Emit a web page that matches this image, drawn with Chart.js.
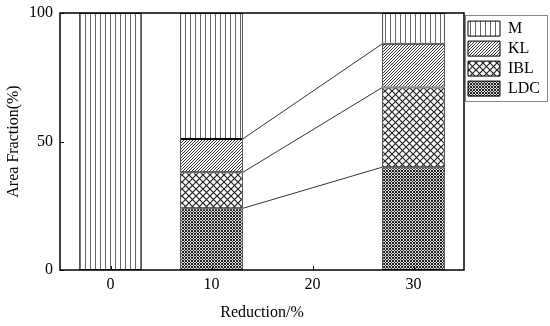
<!DOCTYPE html>
<html>
<head>
<meta charset="utf-8">
<script src="https://cdn.jsdelivr.net/npm/chart.js@4.4.0/dist/chart.umd.min.js"></script>
<style>
  html, body { margin: 0; padding: 0; background: #fff; }
  #wrap { width: 550px; height: 326px; }
</style>
</head>
<body>
<div id="wrap"><canvas id="myChart" width="550" height="326"></canvas></div>
<script>
// data
var reductions = [0, 10, 30];
var ldc = [0, 24, 40];
var ibl = [0, 14, 31];
var kl = [0, 13, 17];
var mPhase = [100, 49, 12];
var xTicks = [0, 10, 20, 30];
var yTicks = [0, 50, 100];

var serif = "'Liberation Serif', 'DejaVu Serif', serif";

// hatch patterns
function makePattern(kind) {
    var c = document.createElement('canvas');
    var g = c.getContext('2d');
    var s;
    if (kind == 'vert') {
        s = 5; c.width = s; c.height = s;
        g.fillStyle = '#fff'; g.fillRect(0, 0, s, s);
        g.fillStyle = '#666'; g.fillRect(0, 0, 1, s);
    } else if (kind == 'diag') {
        s = 3; c.width = s; c.height = s;
        g.fillStyle = '#fff'; g.fillRect(0, 0, s, s);
        g.strokeStyle = '#333'; g.lineWidth = 1;
        g.beginPath();
        g.moveTo(0, s); g.lineTo(s, 0);
        g.moveTo(-1, 1); g.lineTo(1, -1);
        g.moveTo(s - 1, s + 1); g.lineTo(s + 1, s - 1);
        g.stroke();
    } else if (kind == 'cross') {
        s = 7; c.width = s; c.height = s;
        g.fillStyle = '#fff'; g.fillRect(0, 0, s, s);
        g.strokeStyle = '#222'; g.lineWidth = 1.2;
        g.beginPath();
        g.moveTo(0, 0); g.lineTo(s, s);
        g.moveTo(0, s); g.lineTo(s, 0);
        g.stroke();
    } else {
        s = 3; c.width = s; c.height = s;
        g.fillStyle = '#ddd'; g.fillRect(0, 0, s, s);
        g.strokeStyle = '#222'; g.lineWidth = 1;
        g.beginPath();
        g.moveTo(0, 0); g.lineTo(s, s);
        g.moveTo(0, s); g.lineTo(s, 0);
        g.stroke();
    }
    return document.getElementById('myChart').getContext('2d').createPattern(c, 'repeat');
}

function pts(vals) {
    return reductions.map(function (x, i) { return { x: x, y: vals[i] }; });
}

// frame, inner ticks and connector lines
var extras = {
    id: 'extras',
    afterDatasetsDraw: function (chart) {
        var ctx = chart.ctx;
        ctx.save();
        ctx.strokeStyle = '#333';
        ctx.lineWidth = 1;
        for (var d = 0; d < 3; d++) {
            var meta = chart.getDatasetMeta(d);
            var a = meta.data[1], b = meta.data[2];
            ctx.beginPath();
            ctx.moveTo(a.x + a.width / 2, a.y);
            ctx.lineTo(b.x - b.width / 2, b.y);
            ctx.stroke();
        }
        ctx.restore();
    },
    afterDraw: function (chart) {
        var ctx = chart.ctx, ca = chart.chartArea;
        var xs = chart.scales.x, ys = chart.scales.y;
        ctx.save();
        ctx.strokeStyle = '#000';
        ctx.lineWidth = 1.5;
        ctx.strokeRect(ca.left, ca.top, ca.right - ca.left, ca.bottom - ca.top);
        ctx.lineWidth = 1;
        ctx.beginPath();
        xTicks.forEach(function (v) {
            var px = Math.round(xs.getPixelForValue(v)) + 0.5;
            ctx.moveTo(px, ca.bottom); ctx.lineTo(px, ca.bottom - 4);
        });
        yTicks.forEach(function (v) {
            var py = Math.round(ys.getPixelForValue(v)) + 0.5;
            ctx.moveTo(ca.left, py); ctx.lineTo(ca.left + 4, py);
        });
        ctx.stroke();
        // legend box round the legend items
        var boxes = chart.legend.legendHitBoxes;
        var l = boxes[0].left - 3, t = boxes[0].top - 6;
        var r = chart.width - 3, b = boxes[boxes.length - 1].top + boxes[boxes.length - 1].height + 4;
        ctx.strokeStyle = '#888';
        ctx.strokeRect(Math.round(l) + 0.5, Math.round(t) + 0.5, Math.round(r - l), Math.round(b - t));
        ctx.restore();
    }
};

var ctx = document.getElementById('myChart').getContext('2d');
var chart = new Chart(ctx, {
    type: 'bar',
    data: {
        datasets: [{
            label: 'LDC',
            data: pts(ldc),
            backgroundColor: makePattern('dots')
        }, {
            label: 'IBL',
            data: pts(ibl),
            backgroundColor: makePattern('cross')
        }, {
            label: 'KL',
            data: pts(kl),
            backgroundColor: makePattern('diag')
        }, {
            label: 'M',
            data: pts(mPhase),
            backgroundColor: makePattern('vert')
        }]
    },
    options: {
        responsive: false,
        animation: false,
        datasets: {
            bar: {
                borderColor: '#000',
                borderWidth: 1,
                borderSkipped: false,
                barPercentage: 0.62,
                categoryPercentage: 1
            }
        },
        layout: { padding: { top: 13, left: 0, right: 0, bottom: 0 } },
        plugins: {
            tooltip: { enabled: false },
            legend: {
                position: 'right',
                align: 'start',
                reverse: true,
                title: { display: true, text: ' ', padding: 0, font: { size: 3 } },
                labels: {
                    boxWidth: 32,
                    boxHeight: 15,
                    padding: 4,
                    color: '#000',
                    font: { family: serif, size: 16 }
                }
            }
        },
        scales: {
            x: {
                type: 'linear',
                stacked: true,
                offset: false,
                min: -5,
                max: 35,
                afterBuildTicks: function (s) { s.ticks = xTicks.map(function (v) { return { value: v }; }); },
                afterFit: function (s) { s.height = 56; s.paddingLeft = 0; s.paddingRight = 0; },
                grid: { display: false, drawTicks: false },
                border: { display: false },
                ticks: { color: '#000', padding: 5, font: { family: serif, size: 16 } },
                title: {
                    display: true,
                    text: 'Reduction/%',
                    color: '#000',
                    padding: { top: 2, bottom: 4 },
                    font: { family: serif, size: 16 }
                }
            },
            y: {
                stacked: true,
                min: 0,
                max: 100,
                afterBuildTicks: function (s) { s.ticks = yTicks.map(function (v) { return { value: v }; }); },
                afterFit: function (s) { s.width = 60; s.paddingTop = 0; s.paddingBottom = 0; },
                grid: { display: false, drawTicks: false },
                border: { display: false },
                ticks: { color: '#000', padding: 7, font: { family: serif, size: 16 } },
                title: {
                    display: true,
                    text: 'Area Fraction(%)',
                    color: '#000',
                    padding: { top: 4, bottom: 0 },
                    font: { family: serif, size: 16 }
                }
            }
        }
    },
    plugins: [extras]
});
</script>
</body>
</html>
